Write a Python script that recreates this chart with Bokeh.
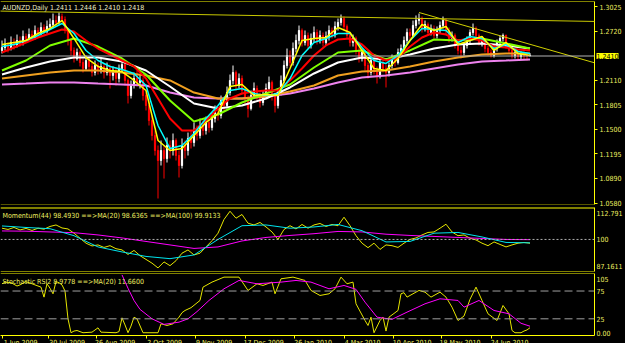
from bokeh.plotting import figure
from bokeh.layouts import column
from bokeh.models import Range1d, FixedTicker, Span, Label, Slope, ColumnDataSource, NumeralTickFormatter
from bokeh.embed import file_html
from bokeh.resources import INLINE

# ---------------- data ----------------
title_text = "AUDNZD,Daily 1.2411 1.2446 1.2410 1.2418"
mom_text = "Momentum(44) 98.4930  ==>MA(20) 98.6365  ==>MA(100) 99.9133"
stoch_text = "Stochastic RSI2 8.9778  ==>MA(20) 11.6600"

open0 = 1.2479
close = [
 1.2516, 1.2553, 1.2503, 1.2578, 1.2541, 1.2603, 1.2566, 1.2653, 1.2615, 1.2677,
 1.2640, 1.2727, 1.2690, 1.2764, 1.2715, 1.2777, 1.2802, 1.2851, 1.2827, 1.2901,
 1.2864, 1.2727, 1.2603, 1.2479, 1.2379, 1.2454, 1.2329, 1.2255, 1.2354, 1.2280,
 1.2205, 1.2292, 1.2230, 1.2280, 1.2205, 1.2255, 1.2168, 1.2230, 1.2130, 1.2255,
 1.2304, 1.2106, 1.1919, 1.2043, 1.2130, 1.2081, 1.2106, 1.1919, 1.1795, 1.1608,
 1.1422, 1.1236, 1.1111, 1.1236, 1.1136, 1.1298, 1.1236, 1.1360, 1.1173, 1.1049,
 1.1298, 1.1236, 1.1385, 1.1335, 1.1484, 1.1422, 1.1546, 1.1484, 1.1584, 1.1521,
 1.1633, 1.1708, 1.1671, 1.1857, 1.1795, 1.1956, 1.2106, 1.2205, 1.2043, 1.2130,
 1.1981, 1.1882, 1.1758, 1.1919, 1.2006, 1.1907, 1.1832, 1.1919, 1.2006, 1.2081,
 1.1919, 1.1795, 1.1956, 1.2106, 1.2292, 1.2416, 1.2329, 1.2503, 1.2603, 1.2727,
 1.2578, 1.2665, 1.2541, 1.2628, 1.2702, 1.2603, 1.2665, 1.2578, 1.2653, 1.2727,
 1.2677, 1.2777, 1.2827, 1.2876, 1.2777, 1.2665, 1.2578, 1.2628, 1.2479, 1.2379,
 1.2454, 1.2292, 1.2205, 1.2354, 1.2230, 1.2168, 1.2329, 1.2255, 1.2205, 1.2292,
 1.2379, 1.2329, 1.2454, 1.2503, 1.2603, 1.2702, 1.2665, 1.2789, 1.2851, 1.2876,
 1.2752, 1.2802, 1.2702, 1.2752, 1.2665, 1.2727, 1.2789, 1.2851, 1.2727, 1.2628,
 1.2665, 1.2541, 1.2479, 1.2454, 1.2541, 1.2603, 1.2702, 1.2752, 1.2665, 1.2578,
 1.2603, 1.2503, 1.2454, 1.2416, 1.2503, 1.2578, 1.2628, 1.2665, 1.2541, 1.2479,
 1.2416, 1.2454, 1.2404, 1.2429, 1.2416, 1.2411, 1.2418]
high = [
 1.2603, 1.2628, 1.2578, 1.2653, 1.2628, 1.2677, 1.2653, 1.2727, 1.2690, 1.2752,
 1.2727, 1.2789, 1.2764, 1.2827, 1.2802, 1.2851, 1.2876, 1.2938, 1.2914, 1.2951,
 1.2938, 1.2901, 1.2752, 1.2628, 1.2516, 1.2503, 1.2479, 1.2379, 1.2416, 1.2391,
 1.2329, 1.2354, 1.2329, 1.2379, 1.2317, 1.2329, 1.2304, 1.2280, 1.2267, 1.2304,
 1.2354, 1.2329, 1.2130, 1.2106, 1.2205, 1.2230, 1.2180, 1.2143, 1.1956, 1.1857,
 1.1671, 1.1484, 1.1298, 1.1360, 1.1298, 1.1397, 1.1360, 1.1447, 1.1385, 1.1236,
 1.1385, 1.1360, 1.1459, 1.1484, 1.1584, 1.1546, 1.1633, 1.1608, 1.1658, 1.1633,
 1.1708, 1.1795, 1.1758, 1.1919, 1.1907, 1.2031, 1.2180, 1.2292, 1.2230, 1.2193,
 1.2168, 1.2031, 1.1919, 1.1981, 1.2081, 1.2043, 1.1956, 1.1981, 1.2068, 1.2155,
 1.2106, 1.1956, 1.2006, 1.2168, 1.2354, 1.2503, 1.2479, 1.2578, 1.2677, 1.2789,
 1.2752, 1.2727, 1.2702, 1.2690, 1.2777, 1.2740, 1.2727, 1.2702, 1.2715, 1.2789,
 1.2764, 1.2839, 1.2876, 1.2926, 1.2901, 1.2802, 1.2702, 1.2677, 1.2653, 1.2516,
 1.2503, 1.2479, 1.2329, 1.2404, 1.2379, 1.2280, 1.2379, 1.2354, 1.2304, 1.2329,
 1.2429, 1.2416, 1.2503, 1.2553, 1.2653, 1.2752, 1.2752, 1.2851, 1.2914, 1.2938,
 1.2901, 1.2851, 1.2827, 1.2802, 1.2789, 1.2777, 1.2839, 1.2901, 1.2876, 1.2764,
 1.2715, 1.2690, 1.2578, 1.2528, 1.2578, 1.2653, 1.2740, 1.2814, 1.2777, 1.2690,
 1.2653, 1.2628, 1.2541, 1.2491, 1.2541, 1.2615, 1.2665, 1.2690, 1.2677, 1.2566,
 1.2503, 1.2491, 1.2479, 1.2466, 1.2466, 1.2454, 1.2446]
low = [
 1.2441, 1.2479, 1.2454, 1.2479, 1.2491, 1.2516, 1.2528, 1.2541, 1.2578, 1.2590,
 1.2603, 1.2615, 1.2653, 1.2665, 1.2677, 1.2690, 1.2740, 1.2764, 1.2777, 1.2802,
 1.2827, 1.2690, 1.2541, 1.2416, 1.2329, 1.2354, 1.2280, 1.2205, 1.2230, 1.2230,
 1.2155, 1.2168, 1.2180, 1.2193, 1.2130, 1.2168, 1.2006, 1.2106, 1.2043, 1.2081,
 1.2205, 1.2043, 1.1820, 1.1882, 1.2006, 1.2031, 1.2006, 1.1857, 1.1733, 1.1546,
 1.1360, 1.1173, 1.0639, 1.1049, 1.0887, 1.1086, 1.1136, 1.1173, 1.1111, 1.0900,
 1.1012, 1.1136, 1.1173, 1.1260, 1.1285, 1.1360, 1.1385, 1.1422, 1.1434, 1.1459,
 1.1484, 1.1584, 1.1608, 1.1633, 1.1733, 1.1758, 1.1919, 1.2056, 1.1981, 1.2006,
 1.1932, 1.1807, 1.1646, 1.1733, 1.1882, 1.1857, 1.1770, 1.1795, 1.1882, 1.1956,
 1.1857, 1.1708, 1.1758, 1.1919, 1.2068, 1.2255, 1.2280, 1.2292, 1.2454, 1.2553,
 1.2528, 1.2541, 1.2503, 1.2503, 1.2578, 1.2553, 1.2566, 1.2528, 1.2541, 1.2603,
 1.2628, 1.2640, 1.2727, 1.2789, 1.2727, 1.2628, 1.2528, 1.2528, 1.2429, 1.2329,
 1.2342, 1.2230, 1.2130, 1.2168, 1.2180, 1.2068, 1.2130, 1.2205, 1.2019, 1.2155,
 1.2255, 1.2280, 1.2304, 1.2404, 1.2454, 1.2566, 1.2615, 1.2640, 1.2752, 1.2802,
 1.2702, 1.2715, 1.2665, 1.2665, 1.2628, 1.2628, 1.2690, 1.2752, 1.2677, 1.2578,
 1.2590, 1.2503, 1.2429, 1.2379, 1.2416, 1.2503, 1.2566, 1.2665, 1.2628, 1.2541,
 1.2528, 1.2454, 1.2416, 1.2391, 1.2391, 1.2466, 1.2541, 1.2590, 1.2503, 1.2441,
 1.2379, 1.2379, 1.2367, 1.2367, 1.2367, 1.2354, 1.2410]
bar_idx = list(range(len(close)))

# moving averages on the price chart (bar index -> price)
fast_idx = list(range(0, 177, 4))
ma_yellow = [1.2553, 1.2578, 1.2603, 1.2690, 1.2752, 1.2851, 1.2628, 1.2391, 1.2280, 1.2230,
             1.2217, 1.2106, 1.1981, 1.1360, 1.1236, 1.1260, 1.1422, 1.1584, 1.1695, 1.2031,
             1.2056, 1.1919, 1.1932, 1.1919, 1.2255, 1.2603, 1.2628, 1.2640, 1.2764, 1.2702,
             1.2479, 1.2255, 1.2230, 1.2379, 1.2603, 1.2802, 1.2727, 1.2777, 1.2553, 1.2603,
             1.2653, 1.2479, 1.2578, 1.2441, 1.2416]
ma_cyan = [1.2528, 1.2553, 1.2603, 1.2665, 1.2740, 1.2814, 1.2690, 1.2479, 1.2354, 1.2280,
           1.2242, 1.2193, 1.2043, 1.1546, 1.1260, 1.1298, 1.1447, 1.1633, 1.1795, 1.1981,
           1.2006, 1.1944, 1.1919, 1.1944, 1.2130, 1.2416, 1.2578, 1.2628, 1.2690, 1.2690,
           1.2516, 1.2354, 1.2317, 1.2416, 1.2603, 1.2752, 1.2740, 1.2727, 1.2578, 1.2653,
           1.2628, 1.2503, 1.2553, 1.2466, 1.2441]
ma_red = [1.2454, 1.2516, 1.2578, 1.2640, 1.2690, 1.2740, 1.2715, 1.2603, 1.2503, 1.2429,
          1.2354, 1.2280, 1.2130, 1.1882, 1.1633, 1.1484, 1.1484, 1.1608, 1.1758, 1.1882,
          1.1944, 1.1969, 1.1981, 1.1981, 1.2106, 1.2255, 1.2416, 1.2541, 1.2615, 1.2628,
          1.2553, 1.2416, 1.2354, 1.2391, 1.2528, 1.2640, 1.2702, 1.2677, 1.2603, 1.2628,
          1.2603, 1.2528, 1.2516, 1.2491, 1.2479]
slow_idx = list(range(0, 177, 8))
ma_green = [1.2230, 1.2354, 1.2541, 1.2628, 1.2528, 1.2379, 1.2180, 1.1857, 1.1596, 1.1683,
            1.1832, 1.1944, 1.2056, 1.2267, 1.2454, 1.2479, 1.2367, 1.2479, 1.2615, 1.2603,
            1.2628, 1.2566, 1.2503]
ma_white = [1.2180, 1.2267, 1.2342, 1.2391, 1.2391, 1.2342, 1.2230, 1.2031, 1.1820, 1.1758,
            1.1795, 1.1882, 1.2019, 1.2193, 1.2329, 1.2391, 1.2367, 1.2429, 1.2503, 1.2553,
            1.2566, 1.2541, 1.2503]
ma_orange = [1.2130, 1.2168, 1.2205, 1.2230, 1.2230, 1.2205, 1.2168, 1.2106, 1.1956, 1.1882,
             1.1882, 1.1907, 1.1969, 1.2043, 1.2168, 1.2217, 1.2230, 1.2280, 1.2342, 1.2391,
             1.2429, 1.2441, 1.2441]
ma_pink = [1.2056, 1.2068, 1.2081, 1.2081, 1.2068, 1.2056, 1.2043, 1.1956, 1.1894, 1.1882,
           1.1882, 1.1907, 1.1944, 1.2006, 1.2081, 1.2143, 1.2168, 1.2205, 1.2255, 1.2304,
           1.2342, 1.2354, 1.2367]

bid_price = 1.2410
trend1_idx = [0, 197]
trend1_price = [1.2968, 1.2840]
trend2_idx = [139, 200]
trend2_price = [1.2951, 1.2299]

price_ticks = [1.3025, 1.2720, 1.2110, 1.1805, 1.1500, 1.1195, 1.0890, 1.0580]

# momentum panel
mom_idx = list(range(0, 177, 2))
mom_val = [104.5, 104.0, 104.8, 103.8, 104.4, 103.6, 104.5, 104.1, 105.2, 105.8,
           104.6, 104.2, 102.5, 100.5, 98.5, 97.4, 97.8, 96.8, 97.5, 96.3,
           95.8, 94.0, 95.6, 93.5, 92.0, 90.5, 88.6, 91.0, 89.5, 91.5,
           94.5, 95.8, 93.8, 94.5, 97.0, 99.5, 102.5, 108.0, 111.3, 108.5,
           110.0, 106.5, 105.8, 106.8, 105.0, 103.0, 100.0, 104.0, 105.5, 104.2,
           106.0, 104.5, 105.8, 106.4, 105.2, 106.0, 105.5, 108.9, 105.5, 101.5,
           98.5, 96.7, 98.5, 96.0, 97.8, 97.5, 96.8, 98.5, 100.0, 100.6,
           101.8, 102.8, 103.0, 104.5, 106.1, 103.0, 101.5, 101.8, 100.5, 99.8,
           98.5, 97.5, 99.0, 98.0, 97.0, 97.8, 98.5, 98.8, 98.49]
mom_ma_idx = list(range(0, 177, 8))
mom_ma20 = [105.4, 104.8, 104.3, 101.5, 97.0, 95.0, 93.2, 92.3, 93.8, 100.0, 105.5, 105.8,
            104.5, 105.0, 106.0, 103.5, 99.0, 99.2, 102.5, 102.8, 101.0, 98.8, 98.64]
mom_ma100 = [103.4, 103.3, 103.0, 102.7, 101.8, 100.6, 99.2, 97.8, 96.4, 97.0, 99.4, 100.8,
             101.6, 102.3, 103.2, 103.0, 102.1, 101.6, 101.2, 100.8, 100.4, 100.0, 99.91]
mom_min, mom_max = 87.1611, 112.791
mom_ticks = [110.67, 100, 89.56]
mom_tick_labels = ["112.791", "100", "87.1611"]

# stochastic RSI panel
stoch_idx = [0, 1, 3, 5, 6, 8, 10, 12, 13, 14, 15, 16, 17, 18, 19, 20, 21, 22, 23, 24,
             25, 27, 30, 32, 33, 38, 39, 40, 41, 42, 43, 44, 45, 47, 52, 53, 55, 57, 59, 60,
             61, 63, 66, 67, 70, 74, 79, 82, 85, 87, 90, 91, 93, 97, 101, 103, 106, 109, 111, 113,
             115, 117, 118, 121, 122, 123, 124, 126, 127, 128, 129, 132, 133, 134, 135, 137, 139, 141, 143, 146,
             148, 150, 152, 154, 156, 158, 160, 162, 165, 167, 169, 170, 171, 173, 174, 175, 176]
stoch_val = [88, 91, 90, 84, 86, 92, 88, 84, 82, 64, 88, 80, 70, 92, 90, 86, 75, 25, 0, 3,
             4, 0, 1, 8.8, 1, 0, 2, 26.8, 14, 0, 12, 27.9, 25, 0, 0, 16, 13, 16, 28, 36,
             40, 45, 58, 82, 91, 100, 100, 76, 88, 85, 91, 70, 97, 100, 94, 76, 67, 70, 79, 100,
             88, 91, 52, 22, 13, 28, 0, 22, 28, 3, 28, 40, 70, 72, 64, 70, 76, 73, 64, 73,
             64, 46, 22, 30, 60, 82, 58, 34, 22, 49, 34, 4, 0, 0, 3, 5, 9]
stoch_ma_idx = [40, 42, 44, 46, 50, 54, 59, 62, 65, 69, 74, 79, 85, 93, 98, 103, 109, 114, 118, 121,
                125, 130, 135, 141, 146, 152, 154, 159, 164, 169, 173, 176]
stoch_ma = [104, 80, 58, 42, 25, 15, 19, 25, 38, 58, 79, 94, 88, 91, 94, 91, 79, 85, 78, 55,
            28, 24, 37, 52, 61, 58, 46, 58, 40, 34, 17, 11.7]
stoch_min, stoch_max = -5.0, 106.5
stoch_levels = [75, 25]
stoch_ticks = [97, 75, 25, 0]
stoch_tick_labels = ["105", "75", "25", "0.00"]

date_idx = [0, 15.5, 31.5, 48, 64.5, 81, 97.5, 114, 130.5, 146.5, 163]
date_labels = ["1 Jun 2009", "30 Jul 2009", "26 Aug 2009", "2 Oct 2009", "9 Nov 2009",
               "17 Dec 2009", "26 Jan 2010", "4 Mar 2010", "10 Apr 2010", "18 May 2010",
               "24 Jun 2010"]

# ---------------- style ----------------
FONT = "'Liberation Sans Narrow', 'DejaVu Sans Condensed', 'Arial Narrow', 'Liberation Sans', sans-serif"
FS = "7px"
YEL = "#ffff00"
TXT = "#eeee60"
X0, X1 = -0.5, 197.5
XR = Range1d(X0, X1)
LABEL_SHIFT = 6.2


def make_fig(frame_h, y0, y1, top, bottom, with_x, tick_out):
    f = figure(frame_width=594, frame_height=frame_h, x_range=XR, y_range=Range1d(y0, y1),
               output_backend="svg", toolbar_location=None,
               y_axis_location="right", x_axis_location=("below" if with_x else None),
               background_fill_color="black", border_fill_color="black",
               outline_line_color=None,
               min_border_left=0, min_border_right=31, min_border_top=top, min_border_bottom=bottom)
    f.grid.visible = False
    ax = f.yaxis[0]
    ax.axis_line_color = YEL
    ax.major_tick_line_color = YEL if tick_out else None
    ax.minor_tick_line_color = None
    ax.major_tick_out = tick_out
    ax.major_tick_in = 0
    ax.major_label_standoff = 2
    ax.major_label_text_color = TXT
    ax.major_label_text_font = FONT
    ax.major_label_text_font_size = FS
    return f


def hline(f, loc, color, dash="solid", width=1):
    f.add_layout(Span(location=loc, dimension="width", line_color=color,
                      line_width=width, line_dash=dash))


# ---- main price panel ----
f1 = make_fig(203, 1.05643, 1.30876, 1, 3, False, 3)
f1.yaxis[0].ticker = FixedTicker(ticks=price_ticks)
f1.yaxis[0].formatter = NumeralTickFormatter(format="0.0000")

opens = [open0] + close[:-1]
src = ColumnDataSource(dict(
    x=bar_idx, h=high, l=low,
    top=[max(o, c) for o, c in zip(opens, close)],
    bottom=[min(o, c) for o, c in zip(opens, close)],
    color=["#ffffff" if c >= o else "#ff0000" for o, c in zip(opens, close)],
))

hline(f1, bid_price, "#b4b4b4")
f1.segment(x0="x", y0="l", x1="x", y1="h", line_color="color", line_width=1, source=src)
f1.vbar(x="x", width=0.4, top="top", bottom="bottom", fill_color="color",
        line_color="color", line_width=1, source=src)

f1.line(slow_idx, ma_pink, line_color="#ee82ee", line_width=2)
f1.line(slow_idx, ma_orange, line_color="#f0a020", line_width=2)
f1.line(slow_idx, ma_white, line_color="#ffffff", line_width=2)
f1.line(slow_idx, ma_green, line_color="#80ff00", line_width=2)
f1.line(fast_idx, ma_red, line_color="#ff0000", line_width=2)
f1.line(fast_idx, ma_cyan, line_color="#00ffff", line_width=1.5)
f1.line(fast_idx, ma_yellow, line_color="#ffff00", line_width=1.5)

g1 = (trend1_price[1] - trend1_price[0]) / (trend1_idx[1] - trend1_idx[0])
f1.add_layout(Slope(gradient=g1, y_intercept=trend1_price[0] - g1 * trend1_idx[0],
                    line_color="#c8c800", line_width=1))
f1.line(trend2_idx, trend2_price, line_color="#d0d000", line_width=1)

hline(f1, 1.30876, YEL)
hline(f1, 1.05643, "#a8a800")
f1.add_layout(Label(x=X0, y=1.30876, x_offset=2, y_offset=-2, text=title_text,
                    text_baseline="top", text_color="#f0f0c8", text_font=FONT,
                    text_font_size=FS))
# current bid price tag, drawn beside the price axis
f1.add_layout(Label(x=X1, y=bid_price, x_offset=2, text=f"{bid_price:.4f}",
                    text_baseline="middle", text_color="#000000", text_font=FONT,
                    text_font_size=FS, background_fill_color=YEL), "right")

# ---- momentum panel ----
f2 = make_fig(64, mom_min, mom_max, 0, 1, False, 0)
f2.yaxis[0].ticker = FixedTicker(ticks=mom_ticks)
f2.yaxis[0].major_label_overrides = dict(zip(mom_ticks, mom_tick_labels))
hline(f2, 100, "#b0b0b0", dash="2 2")
f2.line(mom_idx, mom_val, line_color="#e6e600", line_width=1)
f2.line(mom_ma_idx, mom_ma100, line_color="#ff00ff", line_width=1)
f2.line(mom_ma_idx, mom_ma20, line_color="#00e5ee", line_width=1)
hline(f2, mom_max, YEL, width=2)
hline(f2, mom_min, YEL)
f2.add_layout(Label(x=X0, y=mom_max, x_offset=2, y_offset=-4, text=mom_text,
                    text_baseline="top", text_color=TXT, text_font=FONT,
                    text_font_size=FS))

# ---- stochastic panel ----
f3 = make_fig(62, stoch_min, stoch_max, 1, 0, True, 0)
f3.yaxis[0].ticker = FixedTicker(ticks=stoch_ticks)
f3.yaxis[0].major_label_overrides = dict(zip(stoch_ticks, stoch_tick_labels))
for lv in stoch_levels:
    hline(f3, lv, "#a0a0a0", dash="8 4")
f3.line(stoch_idx, stoch_val, line_color="#e6e600", line_width=1)
f3.line(stoch_ma_idx, stoch_ma, line_color="#ff00ff", line_width=1)
hline(f3, stoch_max, YEL)
f3.add_layout(Label(x=X0, y=stoch_max, x_offset=2, y_offset=-4, text=stoch_text,
                    text_baseline="top", text_color=TXT, text_font=FONT,
                    text_font_size=FS))

label_pos = [round(d + LABEL_SHIFT, 2) for d in date_idx]
xa = f3.xaxis[0]
xa.ticker = FixedTicker(ticks=label_pos, minor_ticks=date_idx)
xa.major_label_overrides = dict(zip(label_pos, date_labels))
xa.axis_line_color = YEL
xa.major_tick_line_color = None
xa.major_tick_out = 0
xa.major_tick_in = 0
xa.minor_tick_line_color = YEL
xa.minor_tick_out = 3
xa.minor_tick_in = 0
xa.major_label_standoff = 0
xa.major_label_text_color = TXT
xa.major_label_text_font = FONT
xa.major_label_text_font_size = FS

p = column(f1, f2, f3, spacing=0, styles={"background-color": "black"})

open("out.html", "w").write(file_html(p, INLINE))
